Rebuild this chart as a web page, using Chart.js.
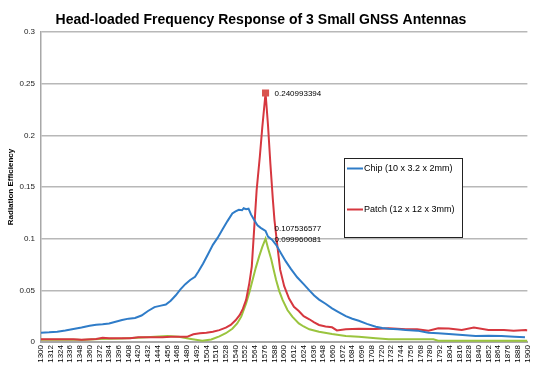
<!DOCTYPE html>
<html>
<head>
<meta charset="utf-8">
<title>Head-loaded Frequency Response</title>
<script src="https://cdn.jsdelivr.net/npm/chart.js"></script>
<style>
  body { margin: 0; background: #fff; }
</style>
</head>
<body>
<canvas id="myChart" width="540" height="368"></canvas>
<script>
var chartTitle = "Head-loaded Frequency Response of 3 Small GNSS Antennas";
var yTitle = "Radiation Efficiency";
var fontFam = '"Liberation Sans", Arial, sans-serif';

// x tick labels (MHz)
var freqTicks = [1300, 1312, 1324, 1336, 1348, 1360, 1372, 1384, 1396, 1408, 1420, 1432, 1444,
  1456, 1468, 1480, 1492, 1504, 1516, 1528, 1540, 1552, 1564, 1576, 1588, 1600, 1612, 1624,
  1636, 1648, 1660, 1672, 1684, 1696, 1708, 1720, 1732, 1744, 1756, 1768, 1780, 1792, 1804,
  1816, 1828, 1840, 1852, 1864, 1876, 1888, 1900];
var effTicks = [0, 0.05, 0.1, 0.15, 0.2, 0.25, 0.3];

// frequency where the values are labelled
var markFreq = 1577;

var chipName = "Chip (10 x 3.2 x 2mm)";
var chipFreq = [1300, 1310, 1320, 1330, 1340, 1350, 1360, 1368, 1376, 1384, 1392, 1400, 1408,
  1416, 1424, 1432, 1440, 1448, 1454, 1460, 1466, 1472, 1478, 1484, 1490, 1494, 1500, 1506,
  1512, 1518, 1524, 1530, 1536, 1540, 1544, 1548, 1550, 1553, 1556, 1559, 1563, 1567, 1571,
  1577, 1580, 1585, 1590, 1596, 1602, 1608, 1616, 1624, 1631, 1637, 1643, 1651, 1659, 1667,
  1676, 1684, 1692, 1702, 1713, 1721, 1729, 1740, 1750, 1764, 1778, 1790, 1803, 1820, 1836,
  1852, 1868, 1884, 1897];
var chipEff = [0.0090, 0.0094, 0.0100, 0.0112, 0.0126, 0.0140, 0.0158, 0.0168, 0.0172, 0.0180,
  0.0196, 0.0212, 0.0226, 0.0232, 0.0256, 0.0300, 0.0338, 0.0352, 0.0362, 0.0400, 0.0450,
  0.0510, 0.0560, 0.0600, 0.0630, 0.0680, 0.0760, 0.0850, 0.0940, 0.1010, 0.1090, 0.1170,
  0.1245, 0.1265, 0.1280, 0.1275, 0.1295, 0.1285, 0.1290, 0.1235, 0.1180, 0.1130, 0.1105,
  0.107536577, 0.1020, 0.0990, 0.0940, 0.0860, 0.0780, 0.0710, 0.0626, 0.0560, 0.0500, 0.0450,
  0.0410, 0.0370, 0.0326, 0.0290, 0.0250, 0.0225, 0.0206, 0.0175, 0.0148, 0.0136, 0.0129,
  0.0124, 0.0116, 0.0110, 0.0090, 0.0084, 0.0077, 0.0068, 0.0058, 0.0060, 0.0058, 0.0052, 0.0045];

var patchName = "Patch (12 x 12 x 3mm)";
var patchFreq = [1300, 1340, 1350, 1368, 1376, 1384, 1410, 1420, 1450, 1460, 1480, 1488, 1496,
  1504, 1512, 1520, 1528, 1534, 1540, 1545, 1549, 1553, 1557, 1560, 1563, 1566, 1570, 1573,
  1577, 1580, 1583, 1586, 1588, 1591, 1595, 1600, 1606, 1612, 1618, 1624, 1631, 1637, 1643,
  1651, 1659, 1665, 1676, 1692, 1713, 1729, 1750, 1764, 1778, 1790, 1803, 1819, 1834, 1852,
  1871, 1883, 1898, 1900];
var patchEff = [0.0026, 0.0026, 0.0022, 0.0030, 0.0040, 0.0036, 0.0036, 0.0045, 0.0045, 0.0050,
  0.0050, 0.0075, 0.0085, 0.0090, 0.0100, 0.0115, 0.0139, 0.0165, 0.0210, 0.0260, 0.0320,
  0.0407, 0.0570, 0.0730, 0.1100, 0.1470, 0.1800, 0.2080, 0.240993394, 0.2100, 0.1720, 0.1380,
  0.1180, 0.0970, 0.0700, 0.0540, 0.0420, 0.0340, 0.0300, 0.0250, 0.0220, 0.0190, 0.0165,
  0.0150, 0.0142, 0.0112, 0.0123, 0.0129, 0.0126, 0.0132, 0.0123, 0.0123, 0.0110, 0.0132,
  0.0130, 0.0116, 0.0139, 0.0116, 0.0116, 0.0110, 0.0116, 0.0112];

var thirdName = "Antenna 3";
var thirdFreq = [1300, 1345, 1350, 1372, 1400, 1430, 1456, 1470, 1485, 1499, 1510, 1520, 1528,
  1536, 1542, 1547, 1553, 1557, 1561, 1565, 1569, 1573, 1577, 1580, 1584, 1587, 1590, 1594,
  1598, 1604, 1610, 1618, 1624, 1631, 1643, 1659, 1676, 1692, 1713, 1729, 1784, 1790, 1900];
var thirdEff = [0.0022, 0.0022, 0.0020, 0.0030, 0.0034, 0.0045, 0.0058, 0.0050, 0.0030, 0.0013,
  0.0025, 0.0055, 0.0085, 0.0128, 0.0180, 0.0245, 0.0374, 0.0480, 0.0600, 0.0720, 0.0826,
  0.0920, 0.099960081, 0.0910, 0.0800, 0.0700, 0.0600, 0.0490, 0.0407, 0.0310, 0.0245, 0.0180,
  0.0150, 0.0123, 0.0100, 0.0077, 0.0058, 0.0050, 0.0036, 0.0026, 0.0026, 0.0012, 0.0012];

function toPoints(xs, ys) {
  return xs.map(function (x, i) { return { x: x, y: ys[i] }; });
}

// title, value labels and the boxed legend are drawn on top
var extras = {
  id: 'extras',
  afterDraw: function (chart) {
    var c = chart.ctx, a = chart.chartArea;
    c.save();
    c.fillStyle = '#000';
    c.font = 'bold 14px ' + fontFam;
    c.textAlign = 'center';
    c.textBaseline = 'alphabetic';
    c.fillText(chartTitle, 261, 24);

    c.font = '8px ' + fontFam;
    c.textAlign = 'left';
    c.textBaseline = 'middle';
    chart.data.datasets.forEach(function (ds, i) {
      var meta = chart.getDatasetMeta(i);
      ds.data.forEach(function (p, j) {
        if (p.x === markFreq && ds.showValue) {
          var el = meta.data[j];
          c.fillText(String(p.y), el.x + 9, el.y + ds.labelShift);
        }
      });
    });

    // legend box (only two entries)
    var lx = a.left + 303, ly = a.top + 126, lw = 118, lh = 79;
    c.fillStyle = '#fff';
    c.fillRect(lx, ly, lw, lh);
    c.strokeStyle = '#222';
    c.lineWidth = 1;
    c.strokeRect(lx + 0.5, ly + 0.5, lw, lh);
    c.font = '9px ' + fontFam;
    var items = chart.data.datasets.filter(function (ds) { return ds.inLegend; });
    items.forEach(function (ds, k) {
      var yy = ly + 10.5 + k * 41;
      c.strokeStyle = ds.borderColor;
      c.lineWidth = 2;
      c.beginPath();
      c.moveTo(lx + 3, yy);
      c.lineTo(lx + 19, yy);
      c.stroke();
      c.fillStyle = '#000';
      c.fillText(ds.label, lx + 20, yy);
    });
    c.restore();
  }
};

var ctx = document.getElementById('myChart');
var myChart = new Chart(ctx, {
  type: 'line',
  data: {
    datasets: [{
      label: chipName,
      data: toPoints(chipFreq, chipEff),
      borderColor: '#2f7cc8',
      borderWidth: 2,
      pointRadius: 0,
      inLegend: true,
      showValue: true,
      labelShift: -2
    }, {
      label: patchName,
      data: toPoints(patchFreq, patchEff),
      borderColor: '#d6373f',
      backgroundColor: '#d9534f',
      borderWidth: 2,
      pointStyle: 'rect',
      pointRadius: function (c) { return c.raw && c.raw.x === markFreq ? 5 : 0; },
      pointBorderWidth: 0,
      inLegend: true,
      showValue: true,
      labelShift: 1
    }, {
      label: thirdName,
      data: toPoints(thirdFreq, thirdEff),
      borderColor: '#9ac43e',
      borderWidth: 2,
      pointRadius: 0,
      inLegend: false,
      showValue: true,
      labelShift: 1
    }]
  },
  options: {
    responsive: false,
    animation: false,
    layout: { padding: { top: 32, right: 11, left: 0, bottom: 0 } },
    plugins: {
      legend: { display: false },
      title: { display: false },
      tooltip: { enabled: false }
    },
    scales: {
      x: {
        type: 'linear',
        min: 1300,
        max: 1900,
        afterBuildTicks: function (axis) {
          axis.ticks = freqTicks.map(function (v) { return { value: v }; });
        },
        afterFit: function (axis) { axis.height = 26; },
        ticks: {
          autoSkip: false,
          maxRotation: 90,
          minRotation: 90,
          padding: 3,
          color: '#000',
          font: { size: 8, family: fontFam },
          callback: function (v) { return String(v); }
        },
        grid: { display: false, drawTicks: false },
        border: { color: '#a8a8a8', width: 2 }
      },
      y: {
        min: 0,
        max: 0.3,
        afterBuildTicks: function (axis) {
          axis.ticks = effTicks.map(function (v) { return { value: v }; });
        },
        afterFit: function (axis) { axis.width = 41; },
        ticks: {
          padding: 6,
          color: '#222',
          font: { size: 8, family: fontFam },
          callback: function (v) { return String(+v.toFixed(2)); }
        },
        grid: { color: '#b8b8b8', lineWidth: 1.5, drawTicks: false },
        border: { color: '#a8a8a8', width: 1.5 },
        title: {
          display: true,
          text: yTitle,
          color: '#000',
          font: { size: 8, weight: 'bold', family: fontFam },
          padding: { top: 6, bottom: 0 }
        }
      }
    }
  },
  plugins: [extras]
});
</script>
</body>
</html>
